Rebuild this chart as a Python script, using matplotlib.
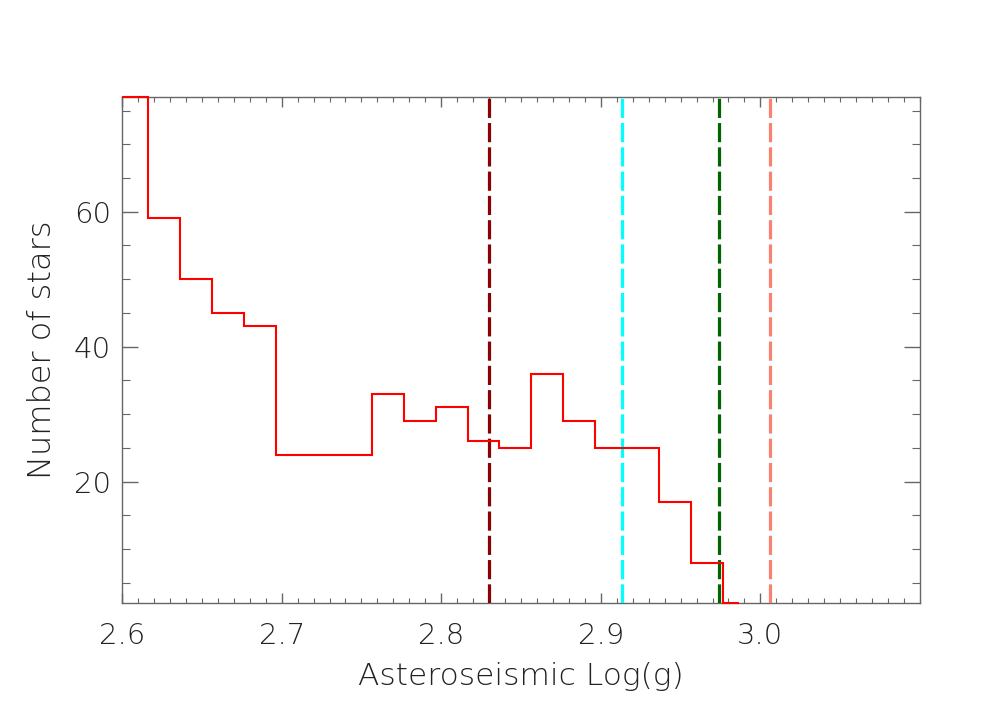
import matplotlib
matplotlib.use('Agg')
import matplotlib.pyplot as plt
from matplotlib.ticker import MultipleLocator, FixedLocator

# Histogram bin edges (first bin clipped at the left axis edge) and counts
bin_edges = [2.6000, 2.6165, 2.6365, 2.6565, 2.6765, 2.6965, 2.7165, 2.7365,
             2.7565, 2.7765, 2.7965, 2.8165, 2.8365, 2.8565, 2.8765, 2.8965,
             2.9165, 2.9365, 2.9565, 2.9765, 2.9865]
counts = [77, 59, 50, 45, 43, 24, 24, 24, 33, 29, 31, 26, 25, 36, 29, 25,
          25, 17, 8, 2]

# Reference vertical lines
vline_x = [2.830, 2.913, 2.974, 3.006]
vline_colors = ['#8b0000', '#00ffff', '#006400', '#fa8072']

x_ticks = [2.6, 2.7, 2.8, 2.9, 3.0]
x_ticklabels = ['2.6', '2.7', '2.8', '2.9', '3.0']
y_ticks = [20, 40, 60]
y_ticklabels = ['20', '40', '60']

plt.rcParams['font.family'] = ['DejaVu Sans']

fig = plt.figure(figsize=(9.81, 7.01), dpi=100)
ax = fig.add_axes([0.1244, 0.1398, 0.8134, 0.7218])

ax.stairs(counts, bin_edges, baseline=None, color='#ff0000', lw=1.5,
          zorder=4, clip_on=False)
for xv, c in zip(vline_x, vline_colors):
    ax.axvline(xv, color=c, lw=2.3, ls=(0, (6, 1.6)), zorder=3)

ax.set_xlim(2.6, 3.1)
ax.set_ylim(2, 77)

ax.xaxis.set_major_locator(FixedLocator(x_ticks))
ax.set_xticklabels(x_ticklabels)
ax.xaxis.set_minor_locator(MultipleLocator(0.01))
ax.yaxis.set_major_locator(FixedLocator(y_ticks))
ax.set_yticklabels(y_ticklabels)
ax.yaxis.set_minor_locator(MultipleLocator(5))

frame_col = '#666666'
for s in ax.spines.values():
    s.set_color(frame_col)
    s.set_linewidth(1.0)

ax.tick_params(axis='x', which='major', direction='in', length=7.2, width=1.0,
               color=frame_col, top=True, bottom=True, labelsize=21, pad=14,
               labelcolor='#222222')
ax.tick_params(axis='x', which='minor', direction='in', length=3.6, width=0.8,
               color=frame_col, top=True, bottom=True)
ax.tick_params(axis='y', which='major', direction='in', length=11.5, width=1.0,
               color=frame_col, left=True, right=True, labelsize=21, pad=8,
               labelcolor='#222222')
ax.tick_params(axis='y', which='minor', direction='in', length=6.0, width=0.8,
               color=frame_col, left=True, right=True)

for lab in ax.get_xticklabels() + ax.get_yticklabels():
    lab.set_fontweight('light')

ax.set_xlabel('Asteroseismic Log(g)', fontsize=22.5, color='#222222',
              labelpad=8, fontweight='light')
ax.set_ylabel('Number of stars', fontsize=23, color='#222222', labelpad=12,
              fontweight='light')

fig.savefig('out.png', dpi=100)
